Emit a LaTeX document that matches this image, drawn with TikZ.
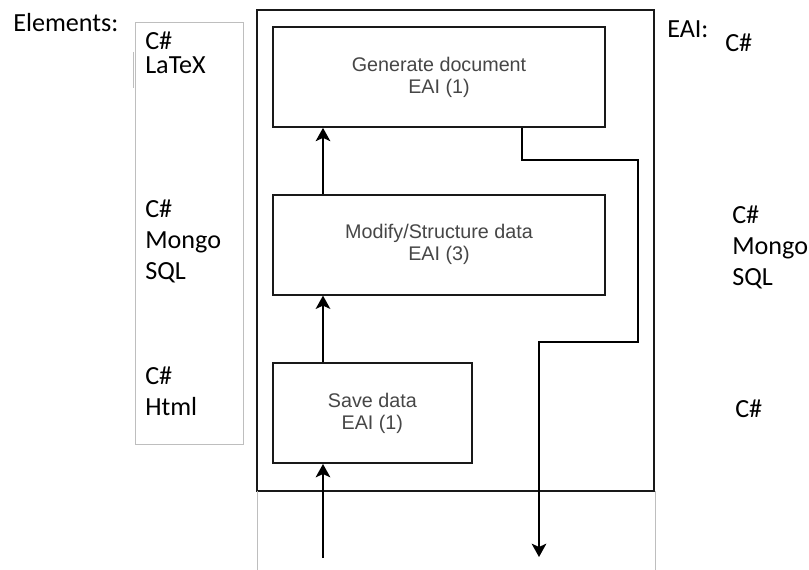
\documentclass[tikz,border=0pt]{standalone}
\usepackage{fontspec}
\setmainfont{Carlito}
\newfontfamily\boxfont{Liberation Sans}
\usetikzlibrary{positioning}
\usetikzlibrary{arrows.meta}
\definecolor{boxtext}{RGB}{70,70,70}
\definecolor{lightline}{RGB}{190,190,190}
\tikzstyle{process} = [rectangle, minimum width=249pt, minimum height=75pt, inner sep=0pt, align=center, draw=black!90, line width=1.3pt, text=boxtext, font=\boxfont\fontsize{14.8}{16.5}\selectfont]
\tikzstyle{tech} = [inner sep=0pt, anchor=north west, align=left, font=\fontsize{19.6}{23.25}\selectfont]
\tikzstyle{arrow} = [line width=1.3pt, -{Stealth[length=10pt, width=11pt, inset=2.5pt]}]

\begin{document}
\begin{tikzpicture}[x=0.75pt, y=-0.75pt, node distance=49.5pt]

        \useasboundingbox (0,0) rectangle (809,570);

        % Outer frame
        \draw[line width=1.3pt, draw=black!90] (257,10) rectangle (654,491);
        \draw[lightline, line width=0.75pt] (257,491) -- (257,570);
        \draw[lightline, line width=0.75pt] (655,491) -- (655,570);

        % Elements box on the left
        \draw[lightline, line width=0.75pt] (135,23) rectangle (243,444);
        \draw[lightline, line width=0.5pt] (133,52) -- (133,88);

        % Process boxes
        \node[process] (gen) at (439,77) {Generate document\\EAI (1)};
        \node[process, below=of gen] (mod) {Modify/Structure data\\EAI (3)};
        \node[process, minimum width=149pt, below=50pt of mod.south west, anchor=north west] (save) {Save data\\EAI (1)};

        % Connections
        \coordinate (in) at (323,558);
        \coordinate (tap) at (522,0);
        \coordinate (out) at (539,557);
        \coordinate (bendA) at (638,160);
        \coordinate (bendB) at (539,342);
        \draw[arrow] (in) -- (in |- save.south);
        \draw[arrow] (save.north -| in) -- (mod.south -| in);
        \draw[arrow] (mod.north -| in) -- (gen.south -| in);
        \draw[arrow] (gen.south -| tap) |- (bendA) |- (bendB) -- (out);

        % Elements text
        \node[tech, anchor=base west] (elements) at (13,32) {Elements:};
        \node[tech] (eltop) at (145,32) {C\#\\[-5.25pt]LaTeX};
        \node[tech] (elmid) at (145,200) {C\#\\Mongo\\SQL};
        \node[tech] (elbot) at (145,367) {C\#\\Html};

        % EAI text on the right
        \node[tech, anchor=base west] (eai) at (667,38) {EAI:};
        \node[tech, anchor=base west] (eaitop) at (725,52) {C\#};
        \node[tech] (eaimid) at (732,206) {C\#\\Mongo\\SQL};
        \node[tech] (eaibot) at (735,400) {C\#};

    \end{tikzpicture}
\end{document}
